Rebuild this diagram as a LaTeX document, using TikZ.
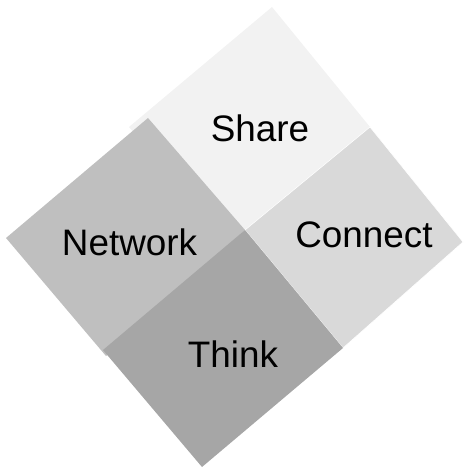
\documentclass[tikz,border=0pt]{standalone}
\usepackage{fontspec}
\setmainfont{Liberation Sans}
\definecolor{shareC}{RGB}{242,242,242}
\definecolor{connectC}{RGB}{217,217,217}
\definecolor{networkC}{RGB}{191,191,191}
\definecolor{thinkC}{RGB}{166,166,166}
\tikzset{
  tile/.style={draw=none},
  lbl/.style={anchor=base, inner sep=0pt, font=\fontsize{37}{44}\selectfont, text=black}
}
\begin{document}
\begin{tikzpicture}[x=1bp, y=-1bp]
\useasboundingbox (0,0) rectangle (464,467);
% tiles, back to front
\fill[shareC, tile] (272,7) -- (370,127) -- (228,246) -- (129,127) -- cycle;
\filldraw[fill=connectC, draw=white, line width=0.6bp, line join=miter] (370,127) -- (463,242) -- (343,348) -- (245,230) -- cycle;
\fill[networkC, tile] (148,118) -- (245,230) -- (106,356) -- (6,238) -- cycle;
\fill[thinkC, tile] (245,230) -- (343,348) -- (202,467) -- (103,350) -- cycle;
% labels
\node[lbl] (share) at (260,142) {Share};
\node[lbl] (connect) at (364,247) {Connect};
\node[lbl] (network) at (129.5,255) {Network};
\node[lbl] (think) at (233,367) {Think};
\end{tikzpicture}
\end{document}
